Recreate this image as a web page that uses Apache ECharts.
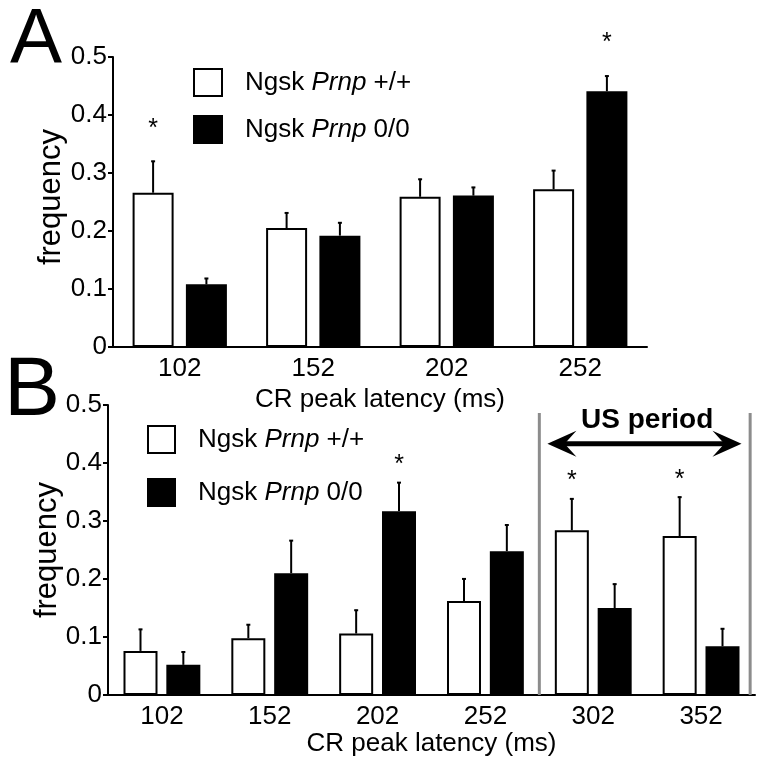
<!DOCTYPE html>
<html>
<head>
<meta charset="utf-8">
<script src="https://cdn.jsdelivr.net/npm/echarts@6/dist/echarts.min.js"></script>
<style>html,body{margin:0;padding:0;background:#fff}#c{width:764px;height:767px}</style>
</head>
<body>
<div id="c"></div>
<script>
// ---- Data ----
const categoriesA = ['102', '152', '202', '252'];
const wtA = [0.266, 0.205, 0.259, 0.272];
const koA = [0.108, 0.192, 0.261, 0.441];
const wtErrA = [0.055, 0.027, 0.031, 0.033];
const koErrA = [0.011, 0.023, 0.015, 0.027];
const wtStarA = [1, 0, 0, 0];
const koStarA = [0, 0, 0, 1];

const categoriesB = ['102', '152', '202', '252', '302', '352'];
const wtB = [0.076, 0.098, 0.106, 0.162, 0.284, 0.274];
const koB = [0.052, 0.210, 0.317, 0.248, 0.150, 0.084];
const wtErrB = [0.038, 0.024, 0.041, 0.039, 0.055, 0.068];
const koErrB = [0.023, 0.057, 0.050, 0.046, 0.042, 0.031];
const wtStarB = [0, 0, 0, 0, 1, 1];
const koStarB = [0, 0, 1, 0, 0, 0];

const yTicks = [0, 0.1, 0.2, 0.3, 0.4, 0.5];
const nameWT = 'Ngsk Prnp +/+';
const nameKO = 'Ngsk Prnp 0/0';
const xTitle = 'CR peak latency (ms)';
const yTitle = 'frequency';
const usLabel = 'US period';

// ---- Style ----
const FONT = 'Liberation Sans, Arial, Helvetica, sans-serif';
const barWA = 41, barWB = 34, gapA = 0.30, gapB = 0.26;

function errData(vals, errs, stars) {
  return vals.map((v, i) => [i, v, errs[i], stars[i]]);
}
function errSeries(xi, vals, errs, stars, side, bw, gap, starOff) {
  const off = side * bw * (1 + gap) / 2;
  return {
    type: 'custom', xAxisIndex: xi, yAxisIndex: xi, z: 5,
    data: errData(vals, errs, stars),
    renderItem: function (params, api) {
      const i = api.value(0), v = api.value(1), e = api.value(2), s = api.value(3);
      const p0 = api.coord([i, v]);
      const p1 = api.coord([i, v + e]);
      const x = p0[0] + off;
      const children = [
        { type: 'line', shape: { x1: x, y1: p0[1], x2: x, y2: p1[1] }, style: { stroke: '#000', lineWidth: 2 } },
        { type: 'line', shape: { x1: x - 2, y1: p1[1] + 0.5, x2: x + 2, y2: p1[1] + 0.5 }, style: { stroke: '#000', lineWidth: 2 } }
      ];
      if (s) {
        children.push({ type: 'text', style: { text: '*', x: x, y: p1[1] - starOff, align: 'center', verticalAlign: 'middle', font: '25px ' + FONT, fill: '#000' } });
      }
      return { type: 'group', children: children };
    }
  };
}
function legendFmt(name) {
  const parts = name.split(' ');
  return '{n|' + parts[0] + ' }{i|' + parts[1] + '}{n| ' + parts[2] + '}';
}
const legendRich = {
  n: { fontFamily: FONT, fontSize: 26, color: '#000' },
  i: { fontFamily: FONT, fontSize: 26, fontStyle: 'italic', color: '#000' }
};
function yAxisCfg(gi, gap, pad) {
  return {
    gridIndex: gi, type: 'value', min: 0, max: 0.5, interval: 0.1,
    name: yTitle, nameLocation: 'middle', nameGap: gap, nameRotate: 90, nameMoveOverlap: false,
    nameTextStyle: { fontFamily: FONT, fontSize: 31, color: '#000', padding: pad },
    axisLine: { show: true, lineStyle: { color: '#000', width: 2 } },
    axisTick: { show: true, length: 5, lineStyle: { color: '#000', width: 2 } },
    axisLabel: { margin: 6, fontFamily: FONT, fontSize: 26, color: '#000',
      formatter: v => { const t = yTicks.find(k => Math.abs(k - v) < 1e-9); return t === 0 ? '0' : (t !== undefined ? t.toFixed(1) : ''); } },
    splitLine: { show: false }
  };
}
function xAxisCfg(gi, cats, gap) {
  return {
    gridIndex: gi, type: 'category', data: cats,
    name: xTitle, nameLocation: 'middle', nameGap: gap,
    nameTextStyle: { fontFamily: FONT, fontSize: 26, color: '#000' },
    axisLine: { lineStyle: { color: '#000', width: 2 } },
    axisTick: { alignWithLabel: true, length: 5, lineStyle: { color: '#000', width: 2 } },
    axisLabel: { margin: 9, fontFamily: FONT, fontSize: 26, color: '#000' }
  };
}
const wtStyle = { color: '#fff', borderColor: '#000', borderWidth: 2 };
const koStyle = { color: '#000', borderColor: '#000', borderWidth: 2 };

const annotation = {
  type: 'custom', xAxisIndex: 1, yAxisIndex: 1, z: 6,
  data: [[0, 0]],
  renderItem: function (params, api) {
    const band = api.size([1, 0])[0];
    const y0 = api.coord([0, 0])[1];
    const yTop = api.coord([0, 0.486])[1];
    const xL = api.coord([3, 0])[0] + band * 0.5;
    const xR = api.coord([5, 0])[0] + band * 0.455;
    const yA = api.coord([0, 0.433])[1];
    const aL = api.coord([3, 0])[0] + band * 0.575;
    const aR = api.coord([5, 0])[0] + band * 0.375;
    const yT = api.coord([0, 0.474])[1];
    const xT = api.coord([4, 0])[0] + band * 0.5;
    return {
      type: 'group', children: [
        { type: 'line', shape: { x1: xL, y1: y0, x2: xL, y2: yTop }, style: { stroke: '#8c8c8c', lineWidth: 3 } },
        { type: 'line', shape: { x1: xR, y1: y0, x2: xR, y2: yTop }, style: { stroke: '#8c8c8c', lineWidth: 3 } },
        { type: 'line', shape: { x1: aL + 14, y1: yA, x2: aR - 14, y2: yA }, style: { stroke: '#000', lineWidth: 5 } },
        { type: 'polygon', shape: { points: [[aL, yA], [aL + 29, yA - 13], [aL + 19, yA - 2], [aL + 19, yA + 2], [aL + 29, yA + 13]] }, style: { fill: '#000' } },
        { type: 'polygon', shape: { points: [[aR, yA], [aR - 29, yA - 13], [aR - 19, yA - 2], [aR - 19, yA + 2], [aR - 29, yA + 13]] }, style: { fill: '#000' } },
        { type: 'text', style: { text: usLabel, x: xT, y: yT, align: 'center', verticalAlign: 'middle', font: 'bold 28px ' + FONT, fill: '#000' } }
      ]
    };
  }
};

const option = {
  animation: false,
  backgroundColor: '#fff',
  textStyle: { fontFamily: FONT },
  grid: [
    { left: 113, right: 117, top: 57, height: 290 },
    { left: 108, right: 9, top: 405, height: 290 }
  ],
  xAxis: [xAxisCfg(0, categoriesA, 40), xAxisCfg(1, categoriesB, 34)],
  yAxis: [yAxisCfg(0, 46, [0, 0, 0, 10]), yAxisCfg(1, 45, 0)],
  legend: [
    { orient: 'vertical', left: 193, top: 68, padding: 0, itemWidth: 28, itemHeight: 27, itemGap: 18,
      data: [{ name: nameWT, icon: 'rect', itemStyle: wtStyle }, { name: nameKO, icon: 'rect', itemStyle: koStyle }],
      selectedMode: false, formatter: legendFmt,
      textStyle: { padding: [0, 0, 0, 18], rich: legendRich } },
    { orient: 'vertical', left: 147, top: 425, padding: 0, itemWidth: 27, itemHeight: 27, itemGap: 24,
      data: [{ name: nameWT, icon: 'rect', itemStyle: wtStyle }, { name: nameKO, icon: 'rect', itemStyle: koStyle }],
      selectedMode: false, formatter: legendFmt,
      textStyle: { padding: [0, 0, 0, 18], rich: legendRich } }
  ],
  graphic: [
    { type: 'text', left: 10, top: 2, style: { text: 'A', font: '78px ' + FONT, fill: '#000' } },
    { type: 'text', left: 4, top: 350, style: { text: 'B', font: '84px ' + FONT, fill: '#000' } }
  ],
  series: [
    { type: 'bar', name: nameWT, xAxisIndex: 0, yAxisIndex: 0, data: wtA, barWidth: barWA, barGap: (gapA * 100) + '%', itemStyle: wtStyle },
    { type: 'bar', name: nameKO, xAxisIndex: 0, yAxisIndex: 0, data: koA, barWidth: barWA, barGap: (gapA * 100) + '%', itemStyle: koStyle },
    { type: 'bar', name: nameWT, xAxisIndex: 1, yAxisIndex: 1, data: wtB, barWidth: barWB, barGap: (gapB * 100) + '%', itemStyle: wtStyle },
    { type: 'bar', name: nameKO, xAxisIndex: 1, yAxisIndex: 1, data: koB, barWidth: barWB, barGap: (gapB * 100) + '%', itemStyle: koStyle },
    errSeries(0, wtA, wtErrA, wtStarA, -1, barWA, gapA, 32),
    errSeries(0, koA, koErrA, koStarA, 1, barWA, gapA, 32),
    errSeries(1, wtB, wtErrB, wtStarB, -1, barWB, gapB, 17),
    errSeries(1, koB, koErrB, koStarB, 1, barWB, gapB, 17),
    annotation
  ]
};
const chart = echarts.init(document.getElementById('c'), null, { renderer: 'canvas' });
chart.setOption(option);
</script>
</body>
</html>
